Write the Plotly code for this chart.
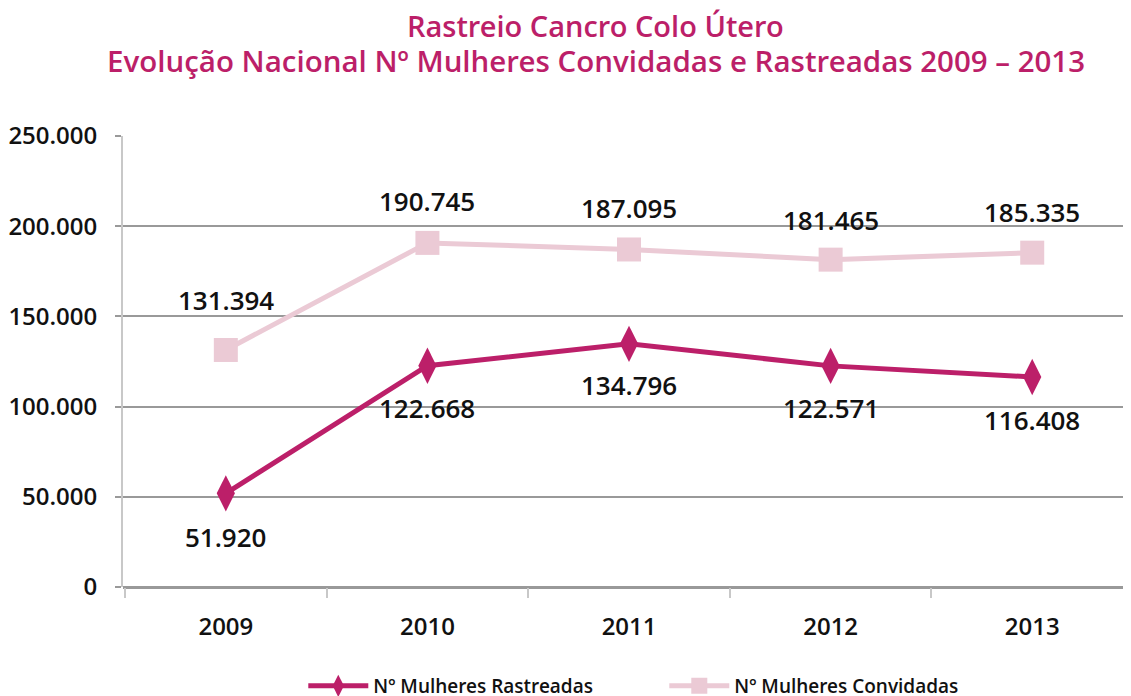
import plotly.graph_objects as go

years = ["2009", "2010", "2011", "2012", "2013"]
rastreadas = [51920, 122668, 134796, 122571, 116408]
convidadas = [131394, 190745, 187095, 181465, 185335]

MAG = "#BC1F69"
PINK = "#EBCAD5"
FONT = "Open Sans SemiBold, Open Sans, sans-serif"

# style: label offsets in px (above for convidadas, below for rastreadas)
shift_conv = [50, 42, 41, 40, 41]
shift_rast = [44, 42, 41, 42, 43]


def fmt(v):
    return f"{v:,}".replace(",", ".")


fig = go.Figure()
fig.add_trace(go.Scatter(
    x=years, y=rastreadas, name="Nº Mulheres Rastreadas",
    mode="lines+markers",
    line=dict(color=MAG, width=5),
    marker=dict(symbol="diamond-tall", size=26, color=MAG),
))
fig.add_trace(go.Scatter(
    x=years, y=convidadas, name="Nº Mulheres Convidadas",
    mode="lines+markers",
    line=dict(color=PINK, width=5),
    marker=dict(symbol="square", size=24, color=PINK),
))

annotations = []
for i, yr in enumerate(years):
    annotations.append(dict(x=i, y=convidadas[i], text=fmt(convidadas[i]), showarrow=False,
                            yshift=shift_conv[i], font=dict(size=26, color="#111", family=FONT)))
    annotations.append(dict(x=i, y=rastreadas[i], text=fmt(rastreadas[i]), showarrow=False,
                            yshift=-shift_rast[i], font=dict(size=26, color="#111", family=FONT)))

# title lines
annotations.append(dict(xref="paper", yref="paper", x=0.469, y=1.244, xanchor="center", yanchor="middle",
                        text="Rastreio Cancro Colo Útero", showarrow=False, borderpad=0,
                        font=dict(size=29, color=MAG, family=FONT)))
annotations.append(dict(xref="paper", yref="paper", x=0.469, y=1.1685, xanchor="center", yanchor="middle",
                        text="Evolução Nacional Nº Mulheres Convidadas e Rastreadas 2009 – 2013", showarrow=False,
                        borderpad=0, font=dict(size=29.5, color=MAG, family=FONT)))

fig.update_layout(
    width=1123, height=688,
    separators=",.",
    paper_bgcolor="white", plot_bgcolor="white",
    margin=dict(l=115, r=0, t=128, b=109),
    font=dict(family=FONT, color="#111", size=21),
    annotations=annotations,
    legend=dict(orientation="h", x=0.537, xanchor="center", yref="container", y=0.0145, yanchor="middle",
                font=dict(size=19, color="#111", family=FONT),
                itemwidth=60, entrywidth=286, traceorder="normal"),
    showlegend=True,
)
fig.update_xaxes(
    type="category", tickson="boundaries", ticks="outside", ticklen=10,
    tickcolor="#c8c8c8", tickwidth=2, showline=False, showgrid=False,
    tickfont=dict(size=24, family=FONT), range=[-0.51, 4.49], ticklabelstandoff=23,
)
fig.update_yaxes(
    range=[0, 250000], tickvals=[0, 50000, 100000, 150000, 200000, 250000],
    tickformat=",.0f", showgrid=True, gridcolor="#999999", gridwidth=2,
    ticks="outside", ticklen=6, tickcolor="#999999", tickwidth=2,
    showline=True, linecolor="#c8c8c8", linewidth=2, zeroline=True,
    zerolinecolor="#999999", zerolinewidth=3,
    tickfont=dict(size=24, family=FONT), ticklabelstandoff=13,
)

fig.write_html("out.html")
